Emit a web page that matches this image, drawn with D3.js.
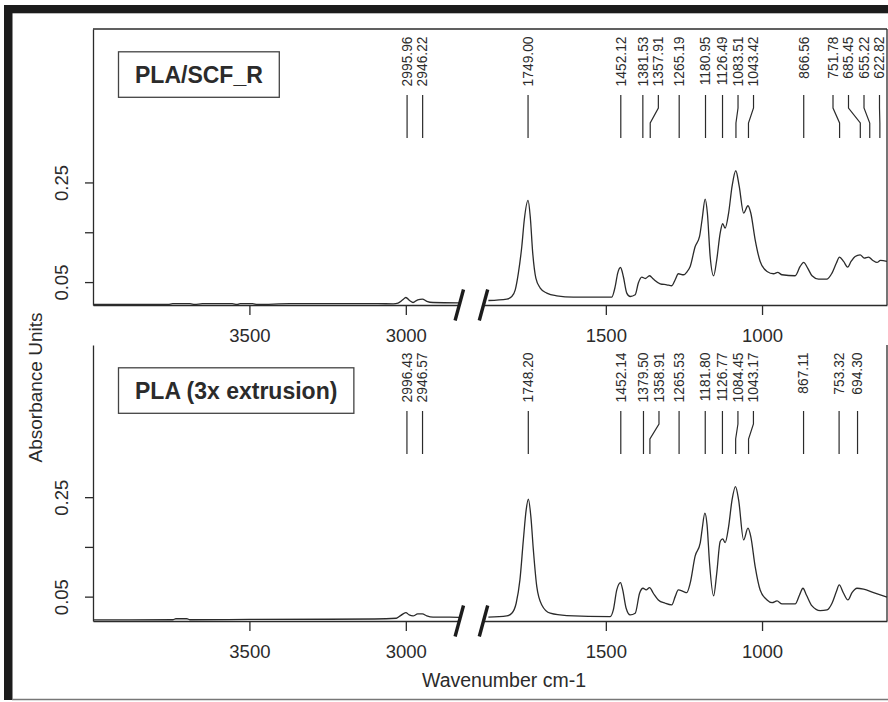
<!DOCTYPE html>
<html>
<head>
<meta charset="utf-8">
<script src="https://cdn.jsdelivr.net/npm/d3@7"></script>
<style>
  body { margin: 0; background: #fff; }
  svg { display: block; font-family: "Liberation Sans", Arial, sans-serif; }
</style>
</head>
<body>
<svg id="chart"></svg>
<script>
// axis ticks and panel titles
const xTicks = [3500, 3000, 1500, 1000];
const yTicks = [0.05, 0.15, 0.25];
const yTickLabels = ['0.05', '', '0.25'];
const panelNames = ['PLA/SCF_R', 'PLA (3x extrusion)'];

// PLA/SCF_R spectrum (wavenumber, absorbance)
const scfWave = [4000, 3760, 3745, 3690, 3675, 3650, 3555, 3540, 3530, 3490, 3475, 3370, 3090, 3040, 3025, 3010, 3000, 2987, 2977, 2962, 2947, 2933, 2913, 2830,
  1876, 1817, 1801, 1790, 1780, 1769, 1761, 1749, 1742, 1734, 1724, 1710, 1689, 1657, 1604, 1481, 1470, 1462, 1453, 1444, 1433, 1422, 1406, 1396, 1385, 1374,
  1360, 1348, 1326, 1305, 1289, 1278, 1268, 1251, 1240, 1230, 1214, 1200, 1192, 1182, 1175, 1166, 1155, 1145, 1134, 1126, 1118, 1107, 1096, 1084, 1073, 1059,
  1045, 1036, 1022, 1006, 984, 963, 950, 936, 894, 878, 867, 854, 840, 819, 792, 776, 762, 752, 739, 726, 715, 702, 686, 673, 659, 645, 632, 621, 600];
const scfAbs = [0.005, 0.005, 0.0068, 0.0068, 0.005, 0.0068, 0.0068, 0.005, 0.0068, 0.0068, 0.005, 0.0068, 0.0068, 0.0062, 0.0078, 0.0144, 0.0191, 0.0124, 0.009, 0.0144, 0.0159, 0.0114, 0.009, 0.0084,
  0.013, 0.0159, 0.0211, 0.0345, 0.0681, 0.1215, 0.1751, 0.2139, 0.1817, 0.1082, 0.058, 0.038, 0.0279, 0.0225, 0.0199, 0.0199, 0.0412, 0.0681, 0.0793, 0.0612, 0.0279, 0.0211, 0.0245, 0.048, 0.06, 0.0572,
  0.0627, 0.056, 0.0466, 0.0446, 0.0426, 0.0546, 0.0667, 0.0647, 0.0707, 0.0813, 0.1215, 0.1416, 0.1751, 0.2167, 0.1886, 0.1014, 0.0627, 0.0948, 0.1484, 0.1671, 0.1584, 0.1886, 0.242, 0.2735, 0.242, 0.1886,
  0.2032, 0.1886, 0.1349, 0.0914, 0.0713, 0.0667, 0.0693, 0.0647, 0.0627, 0.0813, 0.0894, 0.0781, 0.0627, 0.056, 0.056, 0.0681, 0.0882, 0.1002, 0.0914, 0.0801, 0.0914, 0.1014, 0.1048, 0.0982, 0.1002, 0.0934, 0.0894, 0.0934, 0.0914];
const scfPeaks = [2995.96, 2946.22, 1749.00, 1452.12, 1381.53, 1357.91, 1265.19, 1180.95, 1126.49, 1083.51, 1043.42, 866.56, 751.78, 685.45, 655.22, 622.82];

// PLA (3x extrusion) spectrum
const plaWave = [4000, 3745, 3735, 3700, 3690, 3500, 3100, 3030, 3016, 3000, 2989, 2977, 2962, 2947, 2933, 2913, 2859, 2830,
  1876, 1817, 1801, 1787, 1775, 1764, 1755, 1748, 1740, 1732, 1721, 1705, 1678, 1625, 1486, 1476, 1465, 1453, 1446, 1435, 1422, 1406, 1392, 1381, 1371, 1360,
  1348, 1332, 1310, 1289, 1278, 1268, 1251, 1241, 1230, 1214, 1198, 1192, 1183, 1176, 1168, 1155, 1145, 1134, 1126, 1118, 1107, 1096, 1085, 1075, 1059, 1045,
  1036, 1022, 1006, 984, 968, 952, 936, 894, 880, 869, 858, 840, 814, 792, 776, 762, 753, 739, 725, 712, 696, 675, 643, 600];
const plaAbs = [0.0031, 0.0035, 0.0055, 0.0055, 0.0035, 0.0041, 0.005, 0.0065, 0.0122, 0.0178, 0.0132, 0.0112, 0.0152, 0.0152, 0.0112, 0.0086, 0.0086, 0.0081,
  0.0086, 0.0112, 0.0166, 0.0367, 0.0836, 0.1641, 0.2244, 0.246, 0.211, 0.144, 0.0701, 0.0333, 0.0166, 0.0118, 0.0098, 0.0232, 0.0635, 0.0782, 0.0635, 0.0267, 0.0132, 0.0166, 0.0568, 0.0669, 0.0635, 0.0681,
  0.0568, 0.0434, 0.0367, 0.0333, 0.05, 0.0635, 0.0601, 0.058, 0.077, 0.1319, 0.1574, 0.1842, 0.2178, 0.1943, 0.1172, 0.0514, 0.0971, 0.1607, 0.1661, 0.1587, 0.1908, 0.2446, 0.2713, 0.2446, 0.1641, 0.1876,
  0.1707, 0.1104, 0.0635, 0.0434, 0.0379, 0.0413, 0.0353, 0.0353, 0.0534, 0.0669, 0.0534, 0.0313, 0.0218, 0.0232, 0.0367, 0.0601, 0.0735, 0.0568, 0.0434, 0.058, 0.0669, 0.0649, 0.058, 0.0488];
const plaPeaks = [2996.43, 2946.57, 1748.20, 1452.14, 1379.50, 1358.91, 1265.53, 1181.80, 1126.77, 1084.45, 1043.17, 867.11, 753.32, 694.30];

const width = 888, height = 702;
const plotL = 93, plotR = 887, brkL = 459, brkR = 484;
const ink = '#2b2b2b';

const svg = d3.select('#chart').attr('width', width).attr('height', height);

// broken x axis: 4000-2830 on the left, 1890-600 on the right
const xL = d3.scaleLinear().domain([4000, 2830]).range([plotL, brkL]);
const xR = d3.scaleLinear().domain([1890, 600]).range([brkR, plotR]);
const xOf = w => w > 2000 ? xL(w) : xR(w);

const panels = [
  { name: panelNames[0], wave: scfWave, abs: scfAbs, peaks: scfPeaks, top: 29, bottom: 305, ydom: [0.004, 0.558], boxTop: true },
  { name: panelNames[1], wave: plaWave, abs: plaAbs, peaks: plaPeaks, top: 345, bottom: 621, ydom: [0.001, 0.556], boxTop: false }
];

// outer frame
svg.append('rect').attr('x', 4).attr('y', 5).attr('width', 884).attr('height', 8.3).attr('fill', '#1c1c1c');
svg.append('rect').attr('x', 4).attr('y', 5).attr('width', 8.5).attr('height', 695).attr('fill', '#1c1c1c');
svg.append('line').attr('x1', 12).attr('x2', 888).attr('y1', 699.5).attr('y2', 699.5)
  .attr('stroke', '#777').attr('stroke-width', 1.5);

function layoutLabels(peaks) {
  const gap = 15.5, maxX = 879.5;
  const pos = peaks.map(xOf);
  for (let i = 1; i < pos.length; i++) pos[i] = Math.max(pos[i], pos[i - 1] + gap);
  pos[pos.length - 1] = Math.min(pos[pos.length - 1], maxX);
  for (let i = pos.length - 2; i >= 0; i--) pos[i] = Math.min(pos[i], pos[i + 1] - gap);
  return pos;
}

panels.forEach(p => {
  const y = d3.scaleLinear().domain(p.ydom).range([p.bottom, p.top]);
  const g = svg.append('g');

  // x axes, one per side of the break
  [[xL, xTicks.filter(t => t > 2000)], [xR, xTicks.filter(t => t < 2000)]].forEach(([sc, tv]) => {
    const ax = g.append('g')
      .attr('transform', `translate(0,${p.bottom})`)
      .call(d3.axisBottom(sc).tickValues(tv).tickSize(10).tickSizeOuter(0).tickPadding(13.5).tickFormat(d3.format('d')));
    ax.selectAll('path, line').attr('stroke', ink).attr('stroke-width', 1.3);
    ax.selectAll('text').attr('fill', ink).style('font-size', '18.5px');
  });

  // y axis
  const ay = g.append('g')
    .attr('transform', `translate(${plotL},0)`)
    .call(d3.axisLeft(y).tickValues(yTicks).tickSize(8).tickSizeOuter(0).tickFormat((d, i) => yTickLabels[i]));
  ay.selectAll('path, line').attr('stroke', ink).attr('stroke-width', 1.3);
  ay.selectAll('text')
    .attr('fill', ink).style('font-size', '18.5px')
    .attr('text-anchor', 'middle').attr('x', 0).attr('dy', '0.35em')
    .attr('transform', `translate(${62 - plotL},0) rotate(-90)`);

  // remaining frame lines
  g.append('line').attr('x1', plotR).attr('x2', plotR).attr('y1', p.top).attr('y2', p.bottom)
    .attr('stroke', ink).attr('stroke-width', 1.3);
  if (p.boxTop) {
    g.append('line').attr('x1', plotL).attr('x2', plotR).attr('y1', p.top).attr('y2', p.top)
      .attr('stroke', ink).attr('stroke-width', 1.3);
  }

  // spectrum, split at the break
  const pts = p.wave.map((w, i) => [w, p.abs[i]]);
  const line = d3.line().x(d => xOf(d[0])).y(d => y(d[1])).curve(d3.curveMonotoneX);
  [pts.filter(d => d[0] > 2000), pts.filter(d => d[0] < 2000)].forEach(seg => {
    g.append('path').attr('d', line(seg)).attr('fill', 'none')
      .attr('stroke', ink).attr('stroke-width', 1.3).attr('stroke-linejoin', 'round');
  });

  // break marks
  [brkL + 0.3, brkR - 0.5].forEach(cx => {
    g.append('line').attr('x1', cx + 4.2).attr('x2', cx - 4.2)
      .attr('y1', p.bottom - 15.5).attr('y2', p.bottom + 15.5)
      .attr('stroke', '#1c1c1c').attr('stroke-width', 3.4);
  });

  // peak labels with leader lines
  const lx = layoutLabels(p.peaks);
  p.peaks.forEach((pk, i) => {
    const px = xOf(pk);
    g.append('path')
      .attr('d', `M${lx[i]},${p.top + 66}V${p.top + 79}L${px},${p.top + 94}V${p.top + 109}`)
      .attr('fill', 'none').attr('stroke', ink).attr('stroke-width', 1.2);
    g.append('text')
      .attr('transform', `translate(${lx[i]},${p.top + 7.5}) rotate(-90)`)
      .attr('text-anchor', 'end').attr('dy', '0.35em')
      .attr('fill', ink).style('font-size', '13.8px')
      .text(pk.toFixed(2));
  });

  // sample name box
  const label = g.append('text')
    .attr('y', p.top + 45.5).attr('dy', '0.36em')
    .attr('text-anchor', 'middle').attr('fill', ink)
    .style('font-size', '23px').style('font-weight', 'bold')
    .text(p.name);
  const tw = label.node().getComputedTextLength();
  const boxX = plotL + 25.5, boxW = tw + 33;
  label.attr('x', boxX + boxW / 2);
  g.append('rect')
    .attr('x', boxX).attr('y', p.top + 22.8).attr('width', boxW).attr('height', 45.5)
    .attr('fill', 'none').attr('stroke', '#444').attr('stroke-width', 1.3);
});

// axis titles
svg.append('text')
  .attr('transform', 'translate(35.5,387.5) rotate(-90)')
  .attr('text-anchor', 'middle').attr('dy', '0.35em')
  .attr('fill', ink).style('font-size', '19px')
  .text('Absorbance Units');

svg.append('text')
  .attr('x', 504).attr('y', 687)
  .attr('text-anchor', 'middle')
  .attr('fill', ink).style('font-size', '19.5px')
  .text('Wavenumber cm-1');
</script>
</body>
</html>
